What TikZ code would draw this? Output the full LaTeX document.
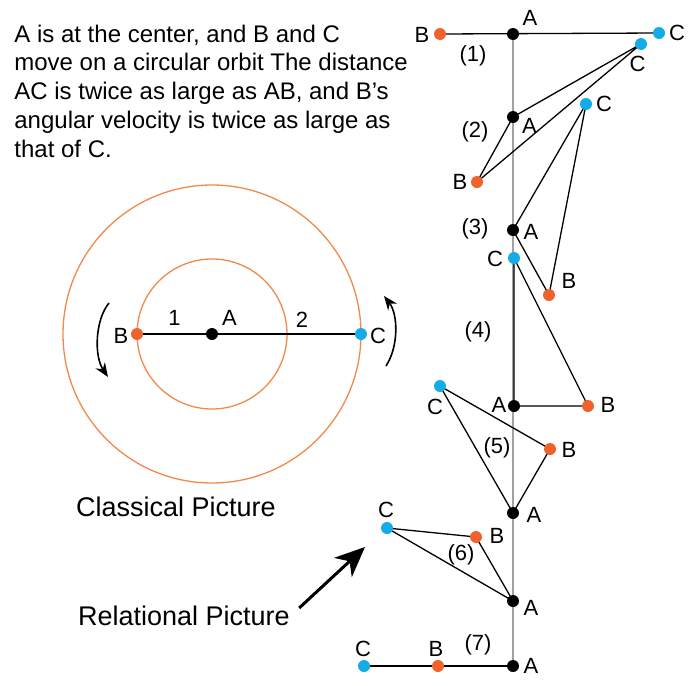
\documentclass[tikz,border=0pt]{standalone}
\usepackage{fontspec}
\setmainfont{Liberation Sans}
\usetikzlibrary{arrows.meta,positioning,backgrounds}

\definecolor{dotOrange}{HTML}{F0622D}
\definecolor{dotCyan}{HTML}{14ACE6}
\definecolor{orbitOrange}{HTML}{F08A4A}
\definecolor{axisGray}{HTML}{A2A2A2}

\tikzset{
  dot/.style={circle, inner sep=0pt, minimum size=6pt},
  ptA/.style={dot, fill=black},
  ptB/.style={dot, fill=dotOrange},
  ptC/.style={dot, fill=dotCyan},
  lbl/.style={inner sep=0pt, font=\fontsize{11}{13}\selectfont},
  title/.style={inner sep=0pt, font=\fontsize{13.5}{16}\selectfont},
  link/.style={line width=0.65pt, black},
  orbit/.style={line width=0.65pt, draw=orbitOrange},
  spin/.style={line width=0.8pt, -{Stealth[length=7pt,width=5.6pt]}},
}

\begin{document}
\begin{tikzpicture}[x=0.5pt, y=-0.5pt]
    \useasboundingbox (0,0) rectangle (692,686);

    % --- Explanation (Top Left) ---
    \node[anchor=base west, align=left, inner sep=0pt, font=\fontsize{12}{14.35}\selectfont] (intro) at (14,157)
        {A is at the center, and B and C\\ move on a circular orbit The distance\\ AC is twice as large as AB, and B's\\ angular velocity is twice as large as\\ that of C.};

    % --- Classical Picture ---
    \node[ptA] (cA) at (212,334) {};
    \node[ptB] (cB) at (137,334) {};
    \node[ptC] (cC) at (361,334) {};
    \begin{scope}[on background layer]
        \draw[orbit] (cA.center) circle[radius=75];
        \draw[orbit] (cA.center) circle[radius=149];
        \draw[link] (cB.center) -- (cC.center);
    \end{scope}
    \node[lbl] (lcA) at (229.5,318) {A};
    \node[lbl] (lcB) at (121,336) {B};
    \node[lbl] (lcC) at (378,336) {C};
    \node[lbl] (lc1) at (174.5,318) {1};
    \node[lbl] (lc2) at (302,320) {2};
    \draw[spin] (109,303) .. controls (95,320) and (94,356) .. (108,377);
    \draw[spin] (386,366) .. controls (399,346) and (398,314) .. (384,296);
    \node[title] (classical) at (176,507) {Classical Picture};

    % --- Relational Picture (Right) ---
    \node[ptA] (A1) at (513,34) {};
    \node[ptB] (B1) at (440,34) {};
    \node[ptC] (C1) at (659,33) {};

    \node[ptA] (A2) at (513,117) {};
    \node[ptB] (B2) at (477,182) {};
    \node[ptC] (C2) at (641,44) {};

    \node[ptA] (A3) at (513,230) {};
    \node[ptB] (B3) at (549,295) {};
    \node[ptC] (C3) at (586,104) {};

    \node[ptA] (A4) at (514,406) {};
    \node[ptB] (B4) at (588,406) {};
    \node[ptC] (C4) at (514,258) {};

    \node[ptA] (A5) at (513,513) {};
    \node[ptB] (B5) at (550,449) {};
    \node[ptC] (C5) at (440,386) {};

    \node[ptA] (A6) at (513,601) {};
    \node[ptB] (B6) at (476,537) {};
    \node[ptC] (C6) at (387,528) {};

    \node[ptA] (A7) at (513,666) {};
    \node[ptB] (B7) at (438,666) {};
    \node[ptC] (C7) at (364,666) {};

    \begin{scope}[on background layer]
        \draw[axisGray, line width=0.75pt] (A1.center) -- (A7.center);
        \draw[link] (B1.center) -- (C1.center);
        \draw[link] (A2.center) -- (C2.center) -- (B2.center) -- cycle;
        \draw[link] (A3.center) -- (C3.center) -- (B3.center) -- cycle;
        \draw[link] (A4.center) -- (C4.center) -- (B4.center) -- cycle;
        \draw[link] (A5.center) -- (C5.center) -- (B5.center) -- cycle;
        \draw[link] (A6.center) -- (C6.center) -- (B6.center) -- cycle;
        \draw[link] (C7.center) -- (A7.center);
    \end{scope}

    % labels
    \node[lbl] (lA1) at (530,18) {A};
    \node[lbl] (lB1) at (422,35) {B};
    \node[lbl] (lC1) at (677,33) {C};
    \node[lbl] (n1) at (473,56) {(1)};

    \node[lbl] (lA2) at (529.5,126) {A};
    \node[lbl] (lB2) at (460,182) {B};
    \node[lbl] (lC2) at (637.5,64) {C};
    \node[lbl] (n2) at (475,132) {(2)};

    \node[lbl] (lA3) at (531,232) {A};
    \node[lbl] (lB3) at (569,281) {B};
    \node[lbl] (lC3) at (604,104) {C};
    \node[lbl] (n3) at (475,229) {(3)};

    \node[lbl] (lA4) at (499,405) {A};
    \node[lbl] (lB4) at (608,405) {B};
    \node[lbl] (lC4) at (495,259) {C};
    \node[lbl] (n4) at (478,332) {(4)};

    \node[lbl] (lA5) at (534,515) {A};
    \node[lbl] (lB5) at (569,450) {B};
    \node[lbl] (lC5) at (435,407) {C};
    \node[lbl] (n5) at (497,448) {(5)};

    \node[lbl] (lA6) at (531,608) {A};
    \node[lbl] (lB6) at (497,536) {B};
    \node[lbl] (lC6) at (386,510) {C};
    \node[lbl] (n6) at (461,555) {(6)};

    \node[lbl] (lA7) at (531,666) {A};
    \node[lbl] (lB7) at (436,649) {B};
    \node[lbl] (lC7) at (363,649) {C};
    \node[lbl] (n7) at (478,645) {(7)};

    % --- Pointer ---
    \node[title] (relational) at (184,616) {Relational Picture};
    \coordinate (ptrTip) at (365,547);
    \draw[line width=1.5pt, -{Stealth[length=15pt,width=13pt,inset=4.5pt]}] ([xshift=4.5pt,yshift=4pt]relational.east) -- (ptrTip);

\end{tikzpicture}
\end{document}
